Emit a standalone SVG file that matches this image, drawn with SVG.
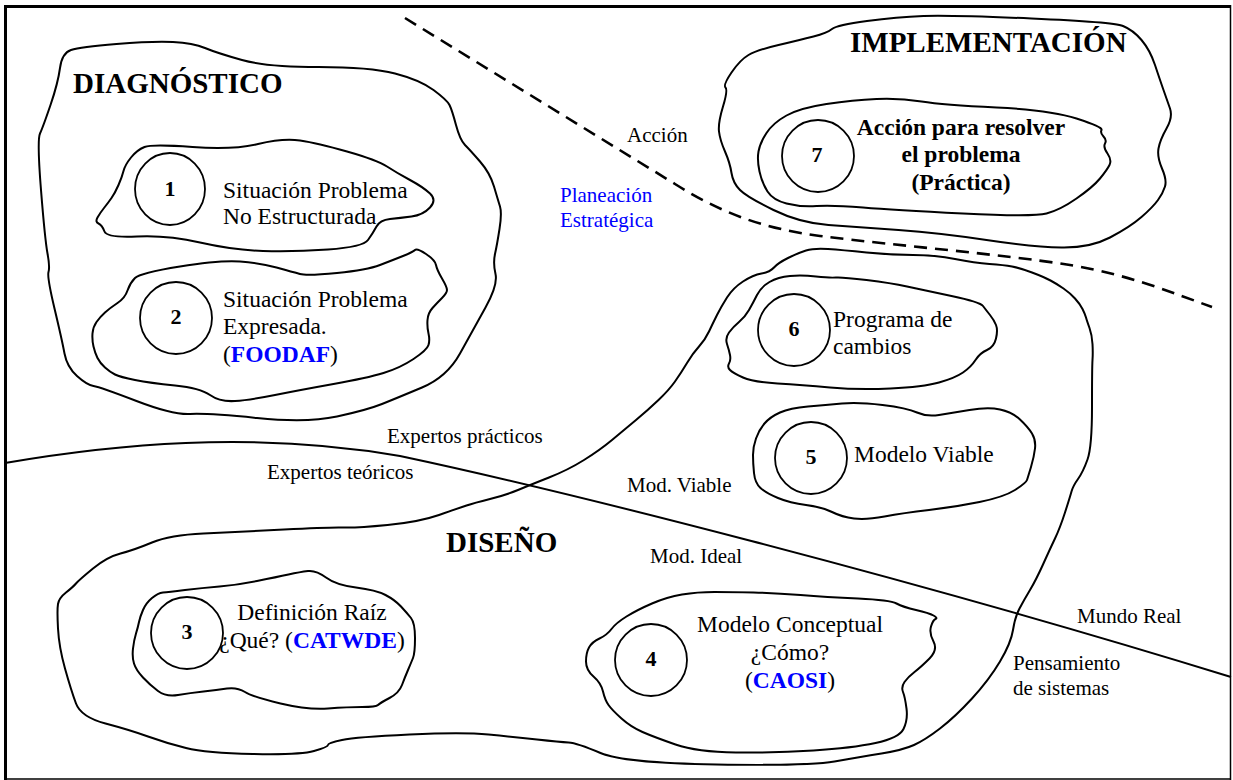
<svg xmlns="http://www.w3.org/2000/svg" width="1233" height="780" viewBox="0 0 1233 780">
  <style>
    .blob { fill: none; stroke: #000; stroke-width: 2; stroke-linejoin: round; stroke-linecap: round; }
    .ring { fill: none; stroke: #000; stroke-width: 1.8; }
    .line { fill: none; stroke: #000; stroke-width: 2; }
    .dash { fill: none; stroke: #000; stroke-width: 2.6; stroke-dasharray: 13 8; }
    .num { font-family: "Liberation Serif", "Times New Roman", serif; font-weight: bold; font-size: 22px; fill: #000; text-anchor: middle; }
    .head { font-family: "Liberation Serif", "Times New Roman", serif; font-weight: bold; font-size: 29px; fill: #000; }
    .body { font-family: "Liberation Serif", "Times New Roman", serif; font-size: 23.5px; fill: #000; }
    .bodyb { font-family: "Liberation Serif", "Times New Roman", serif; font-size: 23.5px; font-weight: bold; fill: #000; text-anchor: middle; }
    .lab { font-family: "Liberation Serif", "Times New Roman", serif; font-size: 21px; fill: #000; }
    .blue { fill: #0000ff; }
    .kw { font-weight: bold; fill: #0000ff; }
  </style>

  <rect x="0" y="0" width="1233" height="780" fill="#fff"/>

  <!-- frame -->
  <g id="frame">
    <line x1="4" y1="6.5" x2="1231" y2="6.5" stroke="#000" stroke-width="3"/>
    <line x1="5.5" y1="5" x2="5.5" y2="780" stroke="#000" stroke-width="3"/>
    <line x1="1230.5" y1="5" x2="1230.5" y2="780" stroke="#000" stroke-width="1.5"/>
    <line x1="4" y1="779" x2="1231" y2="779" stroke="#000" stroke-width="1.5"/>
  </g>

  <!-- boundary lines -->
  <g id="connectors">
    <path class="dash" d="M405,18 L675,184 C720,212 760,228 820,236 C900,246 1000,254 1070,265 C1130,275 1170,292 1212,307"/>
    <path class="line" d="M5,463 C110,445 250,430 400,456 C560,490 900,575 1231,677"/>
  </g>

  <!-- stage: diagnosis -->
  <g id="diagnostico">
    <path class="blob" d="M60,68 Q62,53 71,50 Q80,47 116.5,44 Q153,41 173,42 Q193,43 205,48 Q217,53 242,60 Q267,67 318.5,67 Q370,67 395,73.5 Q420,80 433.5,90 Q447,100 449.5,105 Q452,110 456,125 Q460,140 465,145 Q470,150 480,161.5 Q490,173 494,186.5 Q498,200 500,206.5 Q502,213 499.5,229 Q497,245 495,254 Q493,263 495.5,274 Q498,285 485.5,307.5 Q473,330 460,353.5 Q447,377 422,387.5 Q397,398 382,404 Q367,410 337,416.5 Q307,423 257,418 Q207,413 190,414 Q173,415 136.5,401 Q100,387 93.5,386 Q87,385 77,376 Q67,367 64.5,353.5 Q62,340 54.5,308.5 Q47,277 48.5,272 Q50,267 47.5,253.5 Q45,240 41,190 Q37,140 40,133.5 Q43,127 50.5,105 Q58,83 60,68 Z"/>
    <text class="head" x="73" y="93">DIAGNÓSTICO</text>
  </g>

  <g id="node1">
    <path class="blob" d="M192.5,147 Q152,144 144.5,147 Q137,150 131,157.5 Q125,165 123.5,171 Q122,177 118.5,185 Q115,193 111.5,198 Q108,203 104,208 Q100,213 97.5,217.5 Q95,222 98.5,223.5 Q102,225 104.5,231.5 Q107,238 137,236.5 Q167,235 200,242.5 Q233,250 263,251 Q293,252 328,249.5 Q363,247 368,240 Q373,233 376.5,226.5 Q380,220 390,219 Q400,218 411.5,216.5 Q423,215 430,207.5 Q437,200 430,193.5 Q423,187 410,180 Q397,173 387,166.5 Q377,160 347,151.5 Q317,143 300,140.5 Q283,138 258,144 Q233,150 192.5,147 Z"/>
    <ellipse class="ring" cx="170" cy="189" rx="35" ry="36"/>
    <text class="num" x="170" y="196">1</text>
    <text class="body" x="223" y="198">Situación Problema</text>
    <text class="body" x="223" y="224">No Estructurada</text>
  </g>

  <g id="node2">
    <path class="blob" d="M180,266.5 Q140,273 135,278 Q130,283 127.5,290.5 Q125,298 117.5,303 Q110,308 105,312.5 Q100,317 96.5,322 Q93,327 92.5,333.5 Q92,340 93.5,346.5 Q95,353 97.5,358 Q100,363 105,367.5 Q110,372 115,374.5 Q120,377 135,380 Q150,383 175,385.5 Q200,388 210,395 Q220,402 235,401 Q250,400 275,395 Q300,390 333.5,384 Q367,378 383.5,373 Q400,368 413.5,359 Q427,350 428.5,345 Q430,340 428.5,333.5 Q427,327 427.5,320 Q428,313 432.5,308 Q437,303 442,298 Q447,293 447,290 Q447,287 442,278.5 Q437,270 436,265 Q435,260 426,254 Q417,248 415,250 Q413,252 403,256 Q393,260 380,265 Q367,270 337,273 Q307,276 300,274 Q293,272 276.5,267.5 Q260,263 240,261.5 Q220,260 180,266.5 Z"/>
    <circle class="ring" cx="176" cy="318" r="36"/>
    <text class="num" x="176" y="324">2</text>
    <text class="body" x="223" y="307">Situación Problema</text>
    <text class="body" x="223" y="334">Expresada.</text>
    <text class="body" x="223" y="362">(<tspan class="kw">FOODAF</tspan>)</text>
  </g>

  <!-- stage: implementation -->
  <g id="implementacion">
    <path class="blob" d="M778.5,45 Q800,40 813.5,36.5 Q827,33 832,29 Q837,25 867,21 Q897,17 923.5,16 Q950,15 1031.5,18.5 Q1113,22 1123,26 Q1133,30 1141.5,40 Q1150,50 1155,65 Q1160,80 1163.5,90 Q1167,100 1170,108.5 Q1173,117 1166.5,128.5 Q1160,140 1158.5,148.5 Q1157,157 1162,168.5 Q1167,180 1165,186.5 Q1163,193 1158,200 Q1153,207 1141.5,217 Q1130,227 1110,237.5 Q1090,248 1061.5,247.5 Q1033,247 986.5,240 Q940,233 898.5,230 Q857,227 828.5,225 Q800,223 773.5,210 Q747,197 740,190 Q733,183 731.5,173 Q730,163 725,151.5 Q720,140 719,131.5 Q718,123 723,106.5 Q728,90 725.5,87.5 Q723,85 731.5,72.5 Q740,60 748.5,55 Q757,50 778.5,45 Z"/>
    <text class="head" x="850" y="52">IMPLEMENTACIÓN</text>
  </g>

  <g id="node7">
    <path class="blob" d="M786.5,115.5 Q800,108 826.5,104 Q853,100 876.5,99 Q900,98 921.5,101.5 Q943,105 996.5,107.5 Q1050,110 1076.5,118.5 Q1103,127 1101.5,130 Q1100,133 1103.5,136.5 Q1107,140 1105,143.5 Q1103,147 1107.5,153.5 Q1112,160 1109.5,165 Q1107,170 1100,178.5 Q1093,187 1076.5,198.5 Q1060,210 1046.5,213.5 Q1033,217 963,213.5 Q893,210 863,207.5 Q833,205 816.5,206 Q800,207 786.5,203.5 Q773,200 767.5,191.5 Q762,183 759.5,171.5 Q757,160 758.5,151.5 Q760,143 766.5,133 Q773,123 786.5,115.5 Z"/>
    <circle class="ring" cx="818" cy="156" r="36"/>
    <text class="num" x="817" y="162">7</text>
    <text class="bodyb" x="961" y="135">Acción para resolver</text>
    <text class="bodyb" x="961" y="162">el problema</text>
    <text class="bodyb" x="961" y="190">(Práctica)</text>
  </g>

  <!-- stage: design -->
  <g id="diseno">
    <path class="blob" d="M549,477.5 Q568,470 584,460 Q600,450 612,440 Q624,430 636,420 Q648,410 658.5,400 Q669,390 675,381.5 Q681,373 687,363 Q693,353 699,346.5 Q705,340 709,331.5 Q713,323 717,315 Q721,307 727,297.5 Q733,288 743,281.5 Q753,275 761.5,273.5 Q770,272 774,267.5 Q778,263 788,258 Q798,253 806,250.5 Q814,248 828,249 Q842,250 866.5,252.5 Q891,255 913,255 Q935,255 955,259 Q975,263 989.5,264 Q1004,265 1012,266.5 Q1020,268 1032,272.5 Q1044,277 1050.5,280.5 Q1057,284 1063.5,288.5 Q1070,293 1075,298.5 Q1080,304 1082.5,309 Q1085,314 1086,317.5 Q1087,321 1089.5,328 Q1092,335 1092.5,344 Q1093,353 1092.5,360 Q1092,367 1092,407 Q1092,447 1087.5,459.5 Q1083,472 1078,479 Q1073,486 1071.5,491.5 Q1070,497 1065,512.5 Q1060,528 1055,538.5 Q1050,549 1043,564.5 Q1036,580 1030,590 Q1024,600 1019.5,608.5 Q1015,617 1013,630 Q1011,643 1000,661.5 Q989,680 972,698.5 Q955,717 940,728.5 Q925,740 914,745 Q903,750 881.5,753.5 Q860,757 834.5,761.5 Q809,766 716.5,764.5 Q624,763 600.5,753 Q577,743 568.5,742.5 Q560,742 537,739.5 Q514,737 488.5,734.5 Q463,732 409.5,734.5 Q356,737 342,740 Q328,743 328,745 Q328,747 314,751 Q300,755 253,754 Q206,753 186,748 Q166,743 148,736.5 Q130,730 105.5,723.5 Q81,717 76,703.5 Q71,690 65,668.5 Q59,647 58,628.5 Q57,610 58,604 Q59,598 66,592.5 Q73,587 76,583.5 Q79,580 93,568.5 Q107,557 120.5,553.5 Q134,550 152,542.5 Q170,535 203.5,533.5 Q237,532 284,529.5 Q331,527 343.5,527.5 Q356,528 387.5,525 Q419,522 439,515 Q459,508 466.5,505.5 Q474,503 490,499 Q506,495 518,490 Q530,485 549,477.5 Z"/>
    <text class="head" x="446" y="552">DISEÑO</text>
  </g>

  <g id="node3">
    <path class="blob" d="M185,590 Q168,592 163,592.5 Q158,593 152,598 Q146,603 143,610 Q140,617 139,622 Q138,627 136,633.5 Q134,640 133,648.5 Q132,657 134,663.5 Q136,670 143,677.5 Q150,685 158,691 Q166,697 178,695 Q190,693 203.5,691.5 Q217,690 227,688.5 Q237,687 245,692 Q253,697 280.5,703.5 Q308,710 328,708.5 Q348,707 362,707 Q376,707 378,705 Q380,703 389.5,698 Q399,693 402,685 Q405,677 408,670 Q411,663 413,658 Q415,653 415,638 Q415,623 411,618 Q407,613 401,606.5 Q395,600 385.5,595 Q376,590 356,587.5 Q336,585 326,577.5 Q316,570 308,571 Q300,572 288.5,574.5 Q277,577 257,581 Q237,585 219.5,586.5 Q202,588 185,590 Z"/>
    <circle class="ring" cx="187" cy="633" r="36"/>
    <text class="num" x="187" y="639">3</text>
    <text class="body" x="312" y="620" text-anchor="middle">Definición Raíz</text>
    <text class="body" x="312" y="648" text-anchor="middle">¿Qué? (<tspan class="kw">CATWDE</tspan>)</text>
  </g>

  <g id="node4">
    <path class="blob" d="M714.5,592 Q697,592 682,594.5 Q667,597 652,603.5 Q637,610 626.5,616.5 Q616,623 611.5,629 Q607,635 599.5,638.5 Q592,642 589,647.5 Q586,653 586,661.5 Q586,670 593.5,676.5 Q601,683 603,691.5 Q605,700 608.5,705 Q612,710 621.5,718.5 Q631,727 642.5,732 Q654,737 675.5,744.5 Q697,752 736,752.5 Q775,753 813.5,750.5 Q852,748 875.5,743 Q899,738 903.5,729 Q908,720 906.5,708.5 Q905,697 903,692 Q901,687 904.5,682 Q908,677 914.5,672 Q921,667 929.5,658.5 Q938,650 933.5,641.5 Q929,633 931,626.5 Q933,620 935.5,619 Q938,618 933.5,615.5 Q929,613 916,610 Q903,607 896.5,603.5 Q890,600 858,598.5 Q826,597 800.5,595 Q775,593 753.5,592.5 Q732,592 714.5,592 Z"/>
    <circle class="ring" cx="651" cy="660" r="36"/>
    <text class="num" x="651" y="666">4</text>
    <text class="body" x="790" y="632" text-anchor="middle">Modelo Conceptual</text>
    <text class="body" x="790" y="660" text-anchor="middle">¿Cómo?</text>
    <text class="body" x="790" y="688" text-anchor="middle">(<tspan class="kw">CAOSI</tspan>)</text>
  </g>

  <g id="node5">
    <path class="blob" d="M764.5,423.5 Q770,417 780,412.5 Q790,408 808,406.5 Q826,405 842,403.5 Q858,402 882.5,405 Q907,408 917,412.5 Q927,417 939,415 Q951,413 969.5,410 Q988,407 1000,409.5 Q1012,412 1020,419.5 Q1028,427 1032,433.5 Q1036,440 1035,448.5 Q1034,457 1031,467 Q1028,477 1027,480 Q1026,483 1015,490 Q1004,497 979.5,502 Q955,507 929,510 Q903,513 884.5,516.5 Q866,520 854,518.5 Q842,517 832,512 Q822,507 806,505 Q790,503 778,498 Q766,493 760.5,488 Q755,483 754,473 Q753,463 753,455 Q753,447 756,438.5 Q759,430 764.5,423.5 Z"/>
    <circle class="ring" cx="811" cy="458" r="36"/>
    <text class="num" x="811" y="464">5</text>
    <text class="body" x="854" y="462">Modelo Viable</text>
  </g>

  <g id="node6">
    <path class="blob" d="M790,276 Q778,277 769.5,282 Q761,287 757,295 Q753,303 749,310 Q745,317 739,322 Q733,327 729,332.5 Q725,338 727,344 Q729,350 730,355 Q731,360 729,363.5 Q727,367 730,370 Q733,373 743,377.5 Q753,382 777.5,383.5 Q802,385 830,387.5 Q858,390 890.5,388.5 Q923,387 939,382.5 Q955,378 963,372.5 Q971,367 975.5,360 Q980,353 987,350 Q994,347 996,338.5 Q998,330 996,325 Q994,320 990,315 Q986,310 983,306 Q980,302 951.5,296 Q923,290 907,286.5 Q891,283 866.5,280 Q842,277 836,277.5 Q830,278 816,276.5 Q802,275 790,276 Z"/>
    <circle class="ring" cx="794" cy="330" r="36"/>
    <text class="num" x="794" y="336">6</text>
    <text class="body" x="833" y="327">Programa de</text>
    <text class="body" x="833" y="354">cambios</text>
  </g>

  <!-- region labels -->
  <g id="labels">
    <text class="lab" x="627" y="142">Acción</text>
    <text class="lab blue" x="560" y="202">Planeación</text>
    <text class="lab blue" x="560" y="227">Estratégica</text>
    <text class="lab" x="387" y="443">Expertos prácticos</text>
    <text class="lab" x="267" y="479">Expertos teóricos</text>
    <text class="lab" x="627" y="492">Mod. Viable</text>
    <text class="lab" x="650" y="563">Mod. Ideal</text>
    <text class="lab" x="1077" y="623">Mundo Real</text>
    <text class="lab" x="1013" y="670">Pensamiento</text>
    <text class="lab" x="1013" y="695">de sistemas</text>
  </g>
</svg>
